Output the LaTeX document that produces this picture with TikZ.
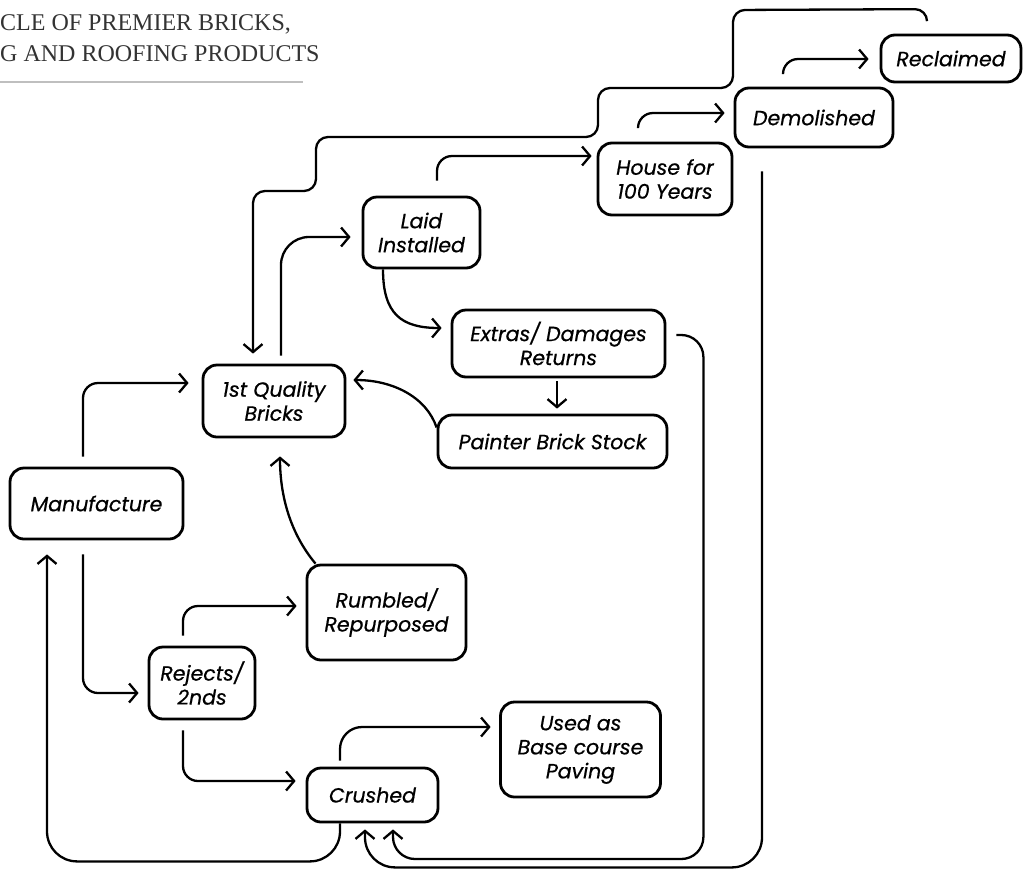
\documentclass[tikz,border=0pt]{standalone}
\usepackage{fontspec}
\setmainfont{Poppins}[ItalicFeatures={FakeBold=0.6}]
\newfontfamily\titlefont{Liberation Serif}
\usetikzlibrary{arrows.meta}

\begin{document}
\begin{tikzpicture}[x=1pt,y=-1pt,
	stage/.style={draw, line width=2.8pt, rounded corners=14pt, align=center, inner sep=1pt,
		font=\fontsize{20.5}{24}\selectfont\itshape},
	flow/.style={line width=2.3pt, ->, rounded corners=15pt},
	heading/.style={anchor=base west, inner sep=0pt, text=black!80,
		font=\titlefont\fontsize{24}{24}\selectfont},
	>={Straight Barb[length=8pt,width=19pt]}]

	\useasboundingbox (0,0) rectangle (1028,868);

	%%Title
	\node[heading] (title1) at (0,30) {CLE OF PREMIER BRICKS,};
	\node[heading] (title2) at (0,61) {G AND ROOFING PRODUCTS};
	\draw[black!25, line width=2.5pt] (0,82) -- (303,82);

	%%Stages
	\node[stage, minimum width=173, minimum height=71] (manuf) at (96.5,503.5) {Manufacture};
	\node[stage, minimum width=142, minimum height=72] (firstq) at (274,401) {1st Quality\\Bricks};
	\node[stage, minimum width=117, minimum height=71] (laid) at (421.5,232.5) {Laid\\Installed};
	\node[stage, minimum width=134, minimum height=72] (house) at (665,179) {House for\\100 Years};
	\node[stage, minimum width=158, minimum height=59] (demol) at (814,117.5) {Demolished};
	\node[stage, minimum width=140, minimum height=47] (recl) at (951,58.5) {Reclaimed};
	\node[stage, minimum width=213, minimum height=67] (extras) at (558.5,343.5) {Extras/ Damages\\Returns};
	\node[stage, minimum width=229, minimum height=53] (painter) at (552.5,441.5) {Painter Brick Stock};
	\node[stage, minimum width=159, minimum height=95] (rumbled) at (386.5,612.5) {Rumbled/\\Repurposed};
	\node[stage, minimum width=106, minimum height=72] (rejects) at (202,683) {Rejects/\\2nds};
	\node[stage, minimum width=160, minimum height=95] (paving) at (580.5,749.5) {Used as\\Base course\\Paving};
	\node[stage, minimum width=131, minimum height=54] (crushed) at (372.5,795) {Crushed};

	%%Production
	\draw[flow] ([shift={(-13.5,-10)}]manuf.north) |- ([shift={(-13,-18)}]firstq.west);
	\draw[flow] ([shift={(-13.5,14)}]manuf.south) |- ([shift={(-9,10)}]rejects.west);
	\draw[flow] ([shift={(-19,-10)}]rejects.north) |- ([shift={(-9,-6.5)}]rumbled.west);
	\draw[flow] ([shift={(-19,10)}]rejects.south) |- ([shift={(-10,-14)}]crushed.west);
	\draw[flow] ([shift={(-71,0)}]rumbled.north) .. controls +(-25,-30) and +(0,40) .. ([shift={(6,18)}]firstq.south);
	\draw[flow, rounded corners=22pt] ([shift={(-32.5,-6)}]crushed.north) |- ([shift={(-8.5,-22.5)}]paving.west);
	\draw[flow, rounded corners=30pt] ([shift={(-32.5,0)}]crushed.south) -- ++(0,38) -| ([shift={(-49.5,14)}]manuf.south);

	%%Use
	\draw[flow, rounded corners=28pt] ([shift={(7,-8)}]firstq.north) |- ([shift={(-11,4.5)}]laid.west);
	\draw[flow] (laid.south) ++(-38.5,0) .. controls +(0,45) and +(-40,0) .. ([shift={(-9,-15.5)}]extras.west);
	\draw[flow] ([shift={(-1.5,3)}]extras.south) -- ([shift={(-1.5,-5)}]extras.south |- painter.north);
	\draw[flow] ([shift={(0,-14)}]painter.west) .. controls +(-10,-30) and +(40,0) .. ([shift={(7,-21)}]firstq.east);
	\draw[flow] ([shift={(15.5,-15)}]laid.north) |- ([shift={(-5,-23)}]house.west);
	\draw[flow] ([shift={(-27,-15)}]house.north) |- ([shift={(-9,-4.5)}]demol.west);
	\draw[flow] ([shift={(-31,-13)}]demol.north) |- ([shift={(-11,0.5)}]recl.west);

	%%Return loops
	\draw[flow, rounded corners=12pt] ([shift={(-24,-12.5)}]recl.north) -- ++(0,-12) -- (733,10) -- (733,88)
		-- (598,88) -- (598,137) -- (316,137) -- (316,191) -- (253,191) -- ([shift={(-21,-10)}]firstq.north);
	\draw[flow, rounded corners=22pt] ([shift={(10,-8.5)}]extras.east) -| ++(27,524) -| ([shift={(20.5,6)}]crushed.south);
	\draw[flow, rounded corners=30pt] ([shift={(-52,23)}]demol.south) -- ++(0,696) -| ([shift={(-7.5,6)}]crushed.south);
\end{tikzpicture}
\end{document}
